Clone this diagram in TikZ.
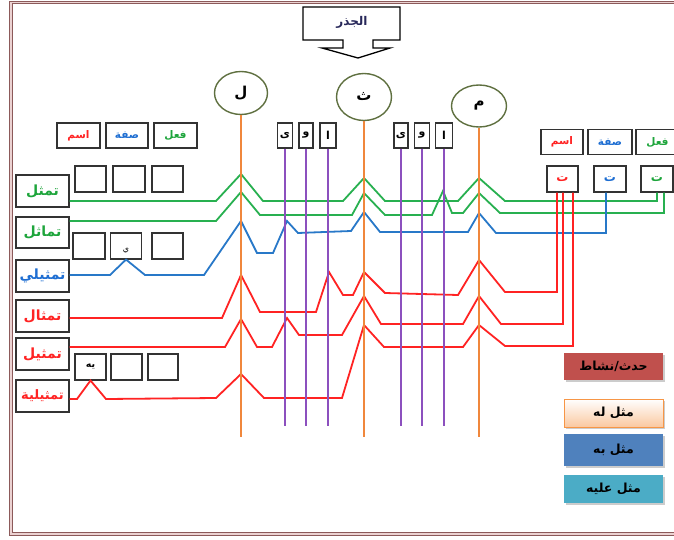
\documentclass[tikz,border=0pt]{standalone}
\usepackage{fontspec}
\newfontfamily\arf[Script=Arabic]{DejaVu Sans}
\TeXXeTstate=1
\usetikzlibrary{shapes.geometric,shadows}
\definecolor{grn}{RGB}{40,176,80}
\definecolor{grnT}{RGB}{30,165,60}
\definecolor{blu}{RGB}{40,120,200}
\definecolor{bluT}{RGB}{30,110,210}
\definecolor{rd}{RGB}{255,35,35}
\definecolor{org}{RGB}{240,135,60}
\definecolor{pur}{RGB}{140,80,190}
\definecolor{olv}{RGB}{95,112,64}
\definecolor{frm}{RGB}{140,90,90}
\definecolor{frmin}{RGB}{235,210,210}
\definecolor{lg1}{RGB}{192,80,77}
\definecolor{lg2}{RGB}{250,200,160}
\definecolor{lg2b}{RGB}{247,150,70}
\definecolor{lg3}{RGB}{79,129,189}
\definecolor{lg4}{RGB}{75,172,198}
\begin{document}
\begin{tikzpicture}[x=1pt,y=-1pt,
  bx/.style={draw=black!80, line width=1.1pt, fill=white, inner sep=0pt},
  lbl/.style={bx, minimum width=53pt, minimum height=32pt, font=\arf\bfseries\fontsize{14}{16}\selectfont},
  hdr/.style={bx, minimum height=25pt, font=\arf\bfseries\fontsize{10.5}{12}\selectfont},
  sq/.style={bx, minimum width=31pt, minimum height=26pt, font=\arf\bfseries\fontsize{9.5}{11}\selectfont},
  let/.style={bx, minimum height=25pt, font=\arf\bfseries\fontsize{11}{12}\selectfont},
  circ/.style={ellipse, draw=olv, line width=1.4pt, fill=white, inner sep=0pt, font=\arf\bfseries\fontsize{15}{17}\selectfont},
  leg/.style={minimum width=99pt, inner sep=0pt, font=\arf\bfseries\fontsize{12.5}{14}\selectfont,
     drop shadow={shadow xshift=1.5pt, shadow yshift=-2pt, fill=black!25, opacity=0.8}},
  gline/.style={grn, line width=1.8pt},
  bline/.style={blu, line width=1.8pt},
  rline/.style={rd, line width=1.8pt},
  oline/.style={org, line width=1.5pt},
  pline/.style={pur, line width=1.6pt},
  frame/.style={draw=frm, line width=1pt, double=frmin, double distance=1.5pt}
]
\useasboundingbox (0,0) rectangle (674,540);
\draw[frame] (10.75,2.75) rectangle (720,533.75);

% title
\draw[black, line width=1.3pt, fill=white] (303,7) -- (400,7) -- (400,40) -- (373,40) -- (373,48) -- (390,48) -- (358,58) -- (322,48) -- (343,48) -- (343,40) -- (303,40) -- cycle;
\node[font=\arf\bfseries\fontsize{12}{14}\selectfont, text={rgb,255:red,40;green,40;blue,90}] (T) at (352,22) {\beginR الجذر\endR};

% ellipses
\node[circ, minimum width=53pt, minimum height=43pt] (E1) at (241,93) {\beginR ل\endR};
\node[circ, minimum width=55pt, minimum height=47pt] (E2) at (364,97) {\beginR ث\endR};
\node[circ, minimum width=55pt, minimum height=42pt] (E3) at (479,106) {\beginR م\endR};
\coordinate (E1b) at (241,437);
\coordinate (E2b) at (364,437);
\coordinate (E3b) at (479,437);

% letter boxes
\node[let, minimum width=15pt] (V1) at (285,135.5) {\beginR ى\endR};
\node[let, minimum width=14pt] (V2) at (306,135.5) {\beginR و\endR};
\node[let, minimum width=16pt] (V3) at (328,135.5) {\beginR ا\endR};
\node[let, minimum width=14pt] (V4) at (401,135.5) {\beginR ى\endR};
\node[let, minimum width=15pt] (V5) at (422,135.5) {\beginR و\endR};
\node[let, minimum width=17pt] (V6) at (444,135.5) {\beginR ا\endR};
\foreach \i/\x in {1/285,2/306,3/328,4/401,5/422,6/444} {\coordinate (V\i b) at (\x,426);}

% left headers
\node[hdr, minimum width=43pt, text=rd] (H1) at (78.5,135.5) {\beginR اسم\endR};
\node[hdr, minimum width=42pt, text=bluT] (H2) at (127,135.5) {\beginR صفة\endR};
\node[hdr, minimum width=43pt, text=grnT] (H3) at (175.5,135.5) {\beginR فعل\endR};

% left empty squares
\node[sq] (A1) at (90.5,179) {};
\node[sq, minimum width=32pt] (A2) at (129,179) {};
\node[sq] (A3) at (167.5,179) {};
\node[sq, minimum width=32pt] (B1) at (89,246) {};
\node[sq] (B2) at (126,246) {};
\node[font=\arf\fontsize{8}{9}\selectfont] (B2t) at (126,251) {\beginR ي\endR};
\node[sq] (B3) at (167.5,246) {};
\node[sq] (C1) at (90.5,367) {\beginR يه\endR};
\node[sq] (C2) at (126.5,367) {};
\node[sq, minimum width=30pt] (C3) at (163,367) {};

% labels
\node[lbl, text=grnT] (L1) at (42.5,191) {\beginR تمثل\endR};
\node[lbl, minimum height=31pt, text=grnT] (L2) at (42.5,232.5) {\beginR تماثل\endR};
\node[lbl, text=bluT] (L3) at (42.5,276) {\beginR تمثيلي\endR};
\node[lbl, text=rd] (L4) at (42.5,316) {\beginR تمثال\endR};
\node[lbl, text=rd] (L5) at (42.5,354) {\beginR تمثيل\endR};
\node[lbl, text=rd, font=\arf\bfseries\fontsize{13}{15}\selectfont] (L6) at (42.5,396) {\beginR تمثيلية\endR};

% right headers
\node[hdr, minimum width=42pt, text=rd] (RH1) at (562,142) {\beginR اسم\endR};
\node[hdr, minimum width=44pt, text=bluT] (RH2) at (610,142) {\beginR صفة\endR};
\node[hdr, minimum width=43pt, text=grnT] (RH3) at (657.5,142) {\beginR فعل\endR};
\node[sq, text=rd, font=\arf\bfseries\fontsize{12}{14}\selectfont] (R1) at (562.5,179) {\beginR ت\endR};
\node[sq, minimum width=32pt, text=bluT, font=\arf\bfseries\fontsize{12}{14}\selectfont] (R2) at (610,179) {\beginR ت\endR};
\node[sq, minimum width=32pt, text=grnT, font=\arf\bfseries\fontsize{12}{14}\selectfont] (R3) at (657,179) {\beginR ت\endR};

% colored lines
\draw[gline] (L1.east |- 0,201) -- (216,201) -- (241,174) -- (263,201) -- (343,201) -- (364,178) -- (385,201) -- (458,201) -- (479,178) -- (505,201) -- (657,201) -- (R3.south);
\draw[gline] (L2.east |- 0,221) -- (216,221) -- (241,192) -- (260,215) -- (352,215) -- (364,193) -- (385,215) -- (432,215) -- (443,191) -- (452,213) -- (463,213) -- (479,193) -- (500,213) -- (664,213) -- (R3.south -| 664,0);
\draw[bline] (L3.east |- 0,275) -- (110,275) -- (B2.south) -- (145,275) -- (204,275) -- (241,221) -- (257,253) -- (273,253) -- (287,221) -- (298,233) -- (351,231) -- (364,212) -- (380,232) -- (468,232) -- (479,213) -- (496,233) -- (606,233) -- (R2.south -| 606,0);
\draw[rline] (L4.east |- 0,318) -- (222,318) -- (241,275) -- (260,312) -- (316,312) -- (329,272) -- (343,295) -- (353,295) -- (364,272) -- (385,293) -- (458,295) -- (479,260) -- (505,292) -- (557,292) -- (R1.south -| 557,0);
\draw[rline] (L5.east |- 0,347) -- (225,347) -- (241,319) -- (257,347) -- (272,347) -- (287,318) -- (299,335) -- (342,335) -- (364,296) -- (381,324) -- (463,324) -- (479,296) -- (501,324) -- (563,324) -- (R1.south -| 563,0);
\draw[rline] (L6.east |- 0,399) -- (77,399) -- (C1.south) -- (106,399) -- (216,398) -- (241,374) -- (264,398) -- (342,398) -- (364,325) -- (384,347) -- (463,347) -- (479,325) -- (505,346) -- (573,346) -- (R1.south -| 573,0);

% verticals
\foreach \i in {1,...,6} {\draw[pline] (V\i.south) -- (V\i b);}
\draw[oline, line width=1.1pt] (E1.south) -- (E1b);
\draw[oline] (E2.south) -- (E2b);
\draw[oline] (E3.south) -- (E3b);

% legend
\node[leg, fill=lg1, minimum height=27pt] (G1) at (613.5,366.5) {\beginR حدث/نشاط\endR};
\node[leg, draw=lg2b, line width=0.6pt, top color=white, bottom color=lg2, minimum height=28pt] (G2) at (613.5,413) {\beginR مثل له\endR};
\node[leg, fill=lg3, minimum height=32pt] (G3) at (613.5,450) {\beginR مثل به\endR};
\node[leg, fill=lg4, minimum height=28pt] (G4) at (613.5,489) {\beginR مثل عليه\endR};
\end{tikzpicture}
\end{document}
